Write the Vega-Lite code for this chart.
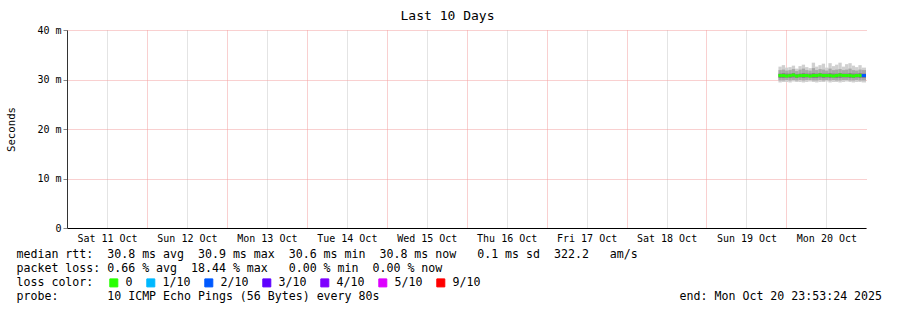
{
  "$schema": "https://vega.github.io/schema/vega-lite/v6.json",
  "width": 799,
  "height": 198,
  "autosize": "none",
  "padding": {"left": 67, "top": 30, "right": 31, "bottom": 82},
  "background": "#ffffff",
  "title": {"text": "Last 10 Days", "frame": "group", "anchor": "middle", "dx": -19, "offset": -8, "baseline": "alphabetic", "font": "DejaVu Sans Mono", "fontSize": 13, "fontWeight": "normal", "color": "#000000"},
  "config": {
    "view": {"stroke": null},
    "axis": {
      "labelFont": "DejaVu Sans Mono",
      "labelFontSize": 10,
      "labelColor": "#000000",
      "titleFont": "DejaVu Sans Mono",
      "titleFontWeight": "normal",
      "titleColor": "#000000",
      "gridDash": [1, 1],
      "gridWidth": 1
    }
  },
  "data": {
    "values": [
      {"t": "2025-10-19T21:36:00Z", "t2": "2025-10-19T22:36:00Z", "lo": 29.4, "p2": 29.8, "p3": 30.3, "p7": 31.2, "p8": 31.9, "hi": 32.6, "med": 30.8, "loss": "0"},
      {"t": "2025-10-19T22:36:00Z", "t2": "2025-10-19T23:36:00Z", "lo": 29.5, "p2": 29.8, "p3": 30.3, "p7": 31.3, "p8": 32.0, "hi": 32.9, "med": 30.8, "loss": "0"},
      {"t": "2025-10-19T23:36:00Z", "t2": "2025-10-20T00:36:00Z", "lo": 29.5, "p2": 29.9, "p3": 30.4, "p7": 31.2, "p8": 31.8, "hi": 32.4, "med": 30.7, "loss": "0"},
      {"t": "2025-10-20T00:36:00Z", "t2": "2025-10-20T01:36:00Z", "lo": 29.4, "p2": 29.8, "p3": 30.3, "p7": 31.2, "p8": 31.9, "hi": 32.5, "med": 30.8, "loss": "0"},
      {"t": "2025-10-20T01:36:00Z", "t2": "2025-10-20T02:36:00Z", "lo": 29.6, "p2": 29.9, "p3": 30.4, "p7": 31.3, "p8": 32.1, "hi": 32.8, "med": 30.9, "loss": "0"},
      {"t": "2025-10-20T02:36:00Z", "t2": "2025-10-20T03:36:00Z", "lo": 29.5, "p2": 29.8, "p3": 30.3, "p7": 31.1, "p8": 31.7, "hi": 32.2, "med": 30.7, "loss": "0"},
      {"t": "2025-10-20T03:36:00Z", "t2": "2025-10-20T04:36:00Z", "lo": 29.5, "p2": 29.9, "p3": 30.4, "p7": 31.2, "p8": 32.0, "hi": 32.7, "med": 30.8, "loss": "0"},
      {"t": "2025-10-20T04:36:00Z", "t2": "2025-10-20T05:36:00Z", "lo": 29.4, "p2": 29.8, "p3": 30.3, "p7": 31.3, "p8": 32.2, "hi": 33.0, "med": 30.8, "loss": "0"},
      {"t": "2025-10-20T05:36:00Z", "t2": "2025-10-20T06:36:00Z", "lo": 29.5, "p2": 29.9, "p3": 30.4, "p7": 31.2, "p8": 31.9, "hi": 32.5, "med": 30.8, "loss": "0"},
      {"t": "2025-10-20T06:36:00Z", "t2": "2025-10-20T07:36:00Z", "lo": 29.6, "p2": 29.9, "p3": 30.4, "p7": 31.2, "p8": 31.8, "hi": 32.3, "med": 30.7, "loss": "0"},
      {"t": "2025-10-20T07:36:00Z", "t2": "2025-10-20T08:36:00Z", "lo": 29.5, "p2": 29.8, "p3": 30.3, "p7": 31.3, "p8": 32.3, "hi": 33.4, "med": 30.8, "loss": "0"},
      {"t": "2025-10-20T08:36:00Z", "t2": "2025-10-20T09:36:00Z", "lo": 29.4, "p2": 29.8, "p3": 30.3, "p7": 31.2, "p8": 31.9, "hi": 32.6, "med": 30.8, "loss": "0"},
      {"t": "2025-10-20T09:36:00Z", "t2": "2025-10-20T10:36:00Z", "lo": 29.5, "p2": 29.9, "p3": 30.4, "p7": 31.3, "p8": 32.1, "hi": 32.9, "med": 30.9, "loss": "0"},
      {"t": "2025-10-20T10:36:00Z", "t2": "2025-10-20T11:36:00Z", "lo": 29.5, "p2": 29.8, "p3": 30.3, "p7": 31.2, "p8": 32.0, "hi": 33.2, "med": 30.8, "loss": "0"},
      {"t": "2025-10-20T11:36:00Z", "t2": "2025-10-20T12:36:00Z", "lo": 29.6, "p2": 29.9, "p3": 30.4, "p7": 31.2, "p8": 31.8, "hi": 32.4, "med": 30.8, "loss": "0"},
      {"t": "2025-10-20T12:36:00Z", "t2": "2025-10-20T13:36:00Z", "lo": 29.4, "p2": 29.8, "p3": 30.3, "p7": 31.3, "p8": 32.2, "hi": 33.3, "med": 30.8, "loss": "0"},
      {"t": "2025-10-20T13:36:00Z", "t2": "2025-10-20T14:36:00Z", "lo": 29.5, "p2": 29.9, "p3": 30.4, "p7": 31.2, "p8": 31.9, "hi": 32.7, "med": 30.7, "loss": "0"},
      {"t": "2025-10-20T14:36:00Z", "t2": "2025-10-20T15:36:00Z", "lo": 29.5, "p2": 29.8, "p3": 30.3, "p7": 31.2, "p8": 32.0, "hi": 33.0, "med": 30.8, "loss": "0"},
      {"t": "2025-10-20T15:36:00Z", "t2": "2025-10-20T16:36:00Z", "lo": 29.4, "p2": 29.8, "p3": 30.3, "p7": 31.3, "p8": 32.1, "hi": 33.4, "med": 30.9, "loss": "0"},
      {"t": "2025-10-20T16:36:00Z", "t2": "2025-10-20T17:36:00Z", "lo": 29.5, "p2": 29.9, "p3": 30.4, "p7": 31.2, "p8": 31.9, "hi": 32.6, "med": 30.8, "loss": "0"},
      {"t": "2025-10-20T17:36:00Z", "t2": "2025-10-20T18:36:00Z", "lo": 29.6, "p2": 29.9, "p3": 30.4, "p7": 31.2, "p8": 32.0, "hi": 33.1, "med": 30.8, "loss": "0"},
      {"t": "2025-10-20T18:36:00Z", "t2": "2025-10-20T19:36:00Z", "lo": 29.5, "p2": 29.8, "p3": 30.3, "p7": 31.3, "p8": 32.2, "hi": 33.3, "med": 30.8, "loss": "0"},
      {"t": "2025-10-20T19:36:00Z", "t2": "2025-10-20T20:36:00Z", "lo": 29.4, "p2": 29.8, "p3": 30.3, "p7": 31.2, "p8": 31.9, "hi": 32.8, "med": 30.7, "loss": "0"},
      {"t": "2025-10-20T20:36:00Z", "t2": "2025-10-20T21:36:00Z", "lo": 29.5, "p2": 29.9, "p3": 30.4, "p7": 31.2, "p8": 31.8, "hi": 32.5, "med": 30.8, "loss": "0"},
      {"t": "2025-10-20T21:36:00Z", "t2": "2025-10-20T22:36:00Z", "lo": 29.5, "p2": 29.8, "p3": 30.3, "p7": 31.3, "p8": 32.0, "hi": 32.9, "med": 30.8, "loss": "0"},
      {"t": "2025-10-20T22:36:00Z", "t2": "2025-10-20T23:53:24Z", "lo": 29.4, "p2": 29.8, "p3": 30.3, "p7": 31.2, "p8": 31.9, "hi": 32.4, "med": 30.8, "loss": "2/10"}
    ]
  },
  "layer": [
    {
      "mark": {"type": "rect", "color": "#d0d0d0"},
      "encoding": {
        "x": {
          "field": "t", "type": "temporal",
          "scale": {"type": "utc", "domain": [{"year": 2025, "month": 10, "date": 11, "hours": 0, "utc": true}, {"year": 2025, "month": 10, "date": 20, "hours": 23, "minutes": 53, "seconds": 24, "utc": true}], "nice": false},
          "axis": {
            "values": [
              {"year": 2025, "month": 10, "date": 11, "hours": 0, "utc": true}, {"year": 2025, "month": 10, "date": 11, "hours": 6, "utc": true}, {"year": 2025, "month": 10, "date": 11, "hours": 12, "utc": true}, {"year": 2025, "month": 10, "date": 11, "hours": 18, "utc": true},
              {"year": 2025, "month": 10, "date": 12, "hours": 0, "utc": true}, {"year": 2025, "month": 10, "date": 12, "hours": 6, "utc": true}, {"year": 2025, "month": 10, "date": 12, "hours": 12, "utc": true}, {"year": 2025, "month": 10, "date": 12, "hours": 18, "utc": true},
              {"year": 2025, "month": 10, "date": 13, "hours": 0, "utc": true}, {"year": 2025, "month": 10, "date": 13, "hours": 6, "utc": true}, {"year": 2025, "month": 10, "date": 13, "hours": 12, "utc": true}, {"year": 2025, "month": 10, "date": 13, "hours": 18, "utc": true},
              {"year": 2025, "month": 10, "date": 14, "hours": 0, "utc": true}, {"year": 2025, "month": 10, "date": 14, "hours": 6, "utc": true}, {"year": 2025, "month": 10, "date": 14, "hours": 12, "utc": true}, {"year": 2025, "month": 10, "date": 14, "hours": 18, "utc": true},
              {"year": 2025, "month": 10, "date": 15, "hours": 0, "utc": true}, {"year": 2025, "month": 10, "date": 15, "hours": 6, "utc": true}, {"year": 2025, "month": 10, "date": 15, "hours": 12, "utc": true}, {"year": 2025, "month": 10, "date": 15, "hours": 18, "utc": true},
              {"year": 2025, "month": 10, "date": 16, "hours": 0, "utc": true}, {"year": 2025, "month": 10, "date": 16, "hours": 6, "utc": true}, {"year": 2025, "month": 10, "date": 16, "hours": 12, "utc": true}, {"year": 2025, "month": 10, "date": 16, "hours": 18, "utc": true},
              {"year": 2025, "month": 10, "date": 17, "hours": 0, "utc": true}, {"year": 2025, "month": 10, "date": 17, "hours": 6, "utc": true}, {"year": 2025, "month": 10, "date": 17, "hours": 12, "utc": true}, {"year": 2025, "month": 10, "date": 17, "hours": 18, "utc": true},
              {"year": 2025, "month": 10, "date": 18, "hours": 0, "utc": true}, {"year": 2025, "month": 10, "date": 18, "hours": 6, "utc": true}, {"year": 2025, "month": 10, "date": 18, "hours": 12, "utc": true}, {"year": 2025, "month": 10, "date": 18, "hours": 18, "utc": true},
              {"year": 2025, "month": 10, "date": 19, "hours": 0, "utc": true}, {"year": 2025, "month": 10, "date": 19, "hours": 6, "utc": true}, {"year": 2025, "month": 10, "date": 19, "hours": 12, "utc": true}, {"year": 2025, "month": 10, "date": 19, "hours": 18, "utc": true},
              {"year": 2025, "month": 10, "date": 20, "hours": 0, "utc": true}, {"year": 2025, "month": 10, "date": 20, "hours": 6, "utc": true}, {"year": 2025, "month": 10, "date": 20, "hours": 12, "utc": true}, {"year": 2025, "month": 10, "date": 20, "hours": 18, "utc": true}
            ],
            "labelExpr": "utchours(datum.value) === 0 ? utcFormat(datum.value, '%a %d %b') : ''",
            "grid": true,
            "gridColor": {"condition": {"test": "utchours(datum.value) === 0", "value": "#f2a0a0"}, "value": "#c8c8c8"},
            "domain": true, "domainColor": "#000000", "ticks": false,
            "labelOffset": 40, "labelPadding": 5, "labelAlign": "center", "labelFlush": false, "labelOverlap": false, "labelBound": false,
            "title": [
              "median rtt:\u00a0\u00a030.8 ms avg\u00a0\u00a030.9 ms max\u00a0\u00a030.6 ms min\u00a0\u00a030.8 ms now\u00a0\u00a0\u00a00.1 ms sd\u00a0\u00a0322.2\u00a0\u00a0\u00a0am/s",
              "packet loss:\u00a00.66 % avg\u00a0\u00a018.44 % max\u00a0\u00a0\u00a00.00 % min\u00a0\u00a00.00 % now",
              "loss color:",
              "probe:\u00a0\u00a0\u00a0\u00a0\u00a0\u00a0\u00a010 ICMP Echo Pings (56 Bytes) every 80s\u00a0\u00a0\u00a0\u00a0\u00a0\u00a0\u00a0\u00a0\u00a0\u00a0\u00a0\u00a0\u00a0\u00a0\u00a0\u00a0\u00a0\u00a0\u00a0\u00a0\u00a0\u00a0\u00a0\u00a0\u00a0\u00a0\u00a0\u00a0\u00a0\u00a0\u00a0\u00a0\u00a0\u00a0\u00a0\u00a0\u00a0\u00a0\u00a0\u00a0\u00a0\u00a0\u00a0end: Mon Oct 20 23:53:24 2025"
            ],
            "titleX": -51, "titleY": 29, "titleAlign": "left", "titleBaseline": "alphabetic", "titleAngle": 0,
            "titleFontSize": 11.6, "titleLineHeight": 14, "titleLimit": 1000
          }
        },
        "x2": {"field": "t2"},
        "y": {
          "field": "lo", "type": "quantitative",
          "scale": {"domain": [0, 40], "nice": false, "zero": true},
          "axis": {
            "values": [0, 10, 20, 30, 40],
            "labelExpr": "datum.value == 0 ? '0' : datum.value + ' m'",
            "grid": true, "gridColor": "#f2a0a0", "domainColor": "#333333",
            "tickSize": 4, "labelPadding": 2,
            "title": "Seconds", "titleX": -56, "titleY": 99, "titleAngle": -90, "titleAlign": "center", "titleBaseline": "middle", "titleFontSize": 10.7
          }
        },
        "y2": {"field": "hi"}
      }
    },
    {
      "mark": {"type": "rect", "color": "#a8a8a8"},
      "encoding": {
        "x": {"field": "t", "type": "temporal"},
        "x2": {"field": "t2"},
        "y": {"field": "p2", "type": "quantitative"},
        "y2": {"field": "p8"}
      }
    },
    {
      "mark": {"type": "rect", "color": "#858585"},
      "encoding": {
        "x": {"field": "t", "type": "temporal"},
        "x2": {"field": "t2"},
        "y": {"field": "p3", "type": "quantitative"},
        "y2": {"field": "p7"}
      }
    },
    {
      "mark": {"type": "rule", "strokeWidth": 3},
      "encoding": {
        "x": {"field": "t", "type": "temporal"},
        "x2": {"field": "t2"},
        "y": {"field": "med", "type": "quantitative"},
        "color": {
          "field": "loss", "type": "nominal",
          "scale": {"domain": ["0", "1/10", "2/10", "3/10", "4/10", "5/10", "9/10"], "range": ["#26ff00", "#00b8ff", "#0059ff", "#5e00ff", "#7e00ff", "#dd00ff", "#ff0000"]},
          "legend": {
            "orient": "none", "legendX": 41, "legendY": 247, "direction": "horizontal", "title": null,
            "symbolType": "square", "symbolSize": 64, "symbolStrokeWidth": 1, "symbolStrokeColor": "#000000",
            "labelFont": "DejaVu Sans Mono", "labelFontSize": 11.6, "labelColor": "#000000",
            "labelOffset": 6, "columnPadding": 11, "padding": 0, "offset": 0,
            "encode": {"symbols": {"update": {"fill": {"scale": "color", "field": "value"}, "fillOpacity": {"value": 1}, "stroke": {"value": "#000000"}, "strokeWidth": {"value": 1}}}}
          }
        }
      }
    }
  ]
}
